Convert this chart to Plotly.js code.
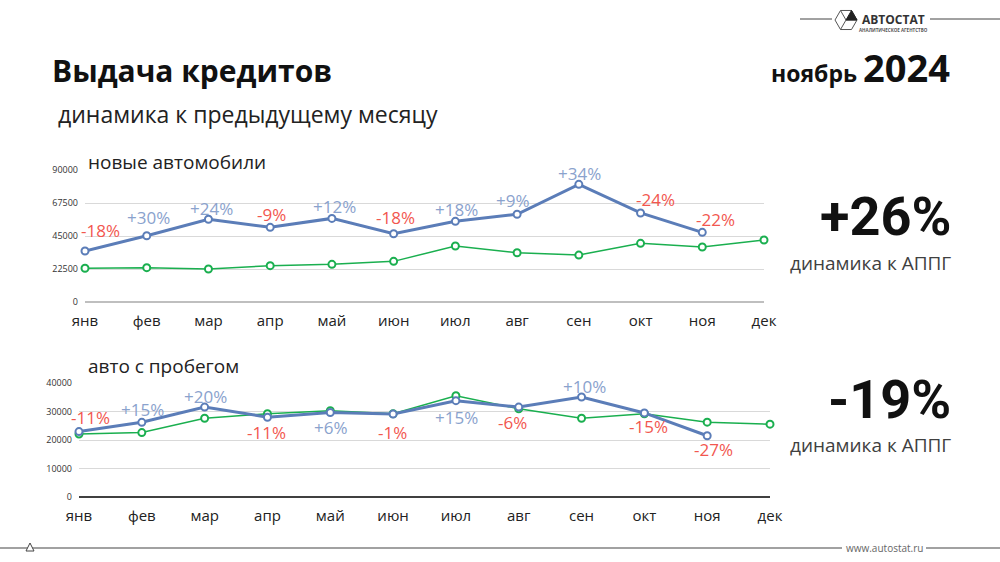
<!DOCTYPE html>
<html>
<head>
<meta charset="utf-8">
<script src="https://cdn.plot.ly/plotly-3.0.1.min.js"></script>
<style>
  html, body { margin: 0; padding: 0; background: #fff; }
  #chart { width: 1000px; height: 562px; }
</style>
</head>
<body>
<div id="chart"></div>
<script>
// ---------- data ----------
const months = ['янв','фев','мар','апр','май','июн','июл','авг','сен','окт','ноя','дек'];

const newCars2024 = [34800, 45200, 56400, 50900, 57000, 46500, 55000, 59800, 80200, 60700, 47500];
const newCars2023 = [23000, 23400, 22500, 24800, 25700, 27700, 38200, 33600, 32000, 40000, 37500, 42300];
const newCarsChange = ['-18%','+30%','+24%','-9%','+12%','-18%','+18%','+9%','+34%','-24%','-22%'];
const newTicks = [0, 22500, 45000, 67500, 90000];

const usedCars2024 = [22950, 26200, 31550, 28000, 29650, 29100, 33800, 31550, 35100, 29500, 21500];
const usedCars2023 = [22100, 22600, 27650, 29200, 30250, 29200, 35550, 30950, 27650, 29200, 26250, 25550];
const usedCarsChange = ['-11%','+15%','+20%','-11%','+6%','-1%','+15%','-6%','+10%','-15%','-27%'];
const usedTicks = [0, 10000, 20000, 30000, 40000];

const yoyNew = '+26%';
const yoyUsed = '-19%';
const yoyCaption = 'динамика к АППГ';

// ---------- styling ----------
const FONT = 'Open Sans, sans-serif';
const BIGFONT = 'Roboto, sans-serif';
const BLUE = '#5b7db8';
const GREEN = '#1aaf4f';
const LIGHTBLUE = '#8aa2cd';
const RED = '#f2574f';

const W = 1000, H = 562;
const px = x => x / W;
const py = y => 1 - y / H;

// label offsets (screen px: [dx, dy up])
const newOffsets = [[15,20],[2,18],[3,11],[1,13],[3,12],[2,16],[1,12],[-4,14],[1,11],[15,13],[13,13]];
const usedOffsets = [[11,14],[1,13],[1,11],[-1,-15],[1,-15],[-1,-18],[1,-17],[-6,-15],[3,10],[4,-14],[6,-14]];

function lineTrace(x, y, color, width, xa, ya) {
  return {
    type: 'scatter', mode: 'lines+markers', x: x, y: y,
    xaxis: xa, yaxis: ya, hoverinfo: 'skip',
    line: { color: color, width: width },
    marker: { size: 7, color: '#ffffff', line: { color: color, width: 2 } },
    cliponaxis: false
  };
}

const traces = [
  lineTrace(months, newCars2023, GREEN, 1.5, 'x', 'y'),
  lineTrace(months.slice(0, newCars2024.length), newCars2024, BLUE, 3, 'x', 'y'),
  lineTrace(months, usedCars2023, GREEN, 1.5, 'x2', 'y2'),
  lineTrace(months.slice(0, usedCars2024.length), usedCars2024, BLUE, 3, 'x2', 'y2')
];

const annotations = [];
function addChangeLabels(labels, values, offsets, xref, yref) {
  labels.forEach((t, i) => {
    annotations.push({
      x: months[i], y: values[i], xref: xref, yref: yref,
      text: t, showarrow: false,
      xanchor: 'center', yanchor: 'middle',
      xshift: offsets[i][0], yshift: offsets[i][1],
      font: { family: FONT, size: 17, color: t.startsWith('+') ? LIGHTBLUE : RED }
    });
  });
}
addChangeLabels(newCarsChange, newCars2024, newOffsets, 'x', 'y');
addChangeLabels(usedCarsChange, usedCars2024, usedOffsets, 'x2', 'y2');

function paperText(text, x, y, size, color, bold, xanchor, family, yanchor) {
  annotations.push({
    xref: 'paper', yref: 'paper', x: px(x), y: py(y),
    text: bold ? '<b>' + text + '</b>' : text, showarrow: false,
    xanchor: xanchor || 'left', yanchor: yanchor || 'middle', align: xanchor || 'left',
    font: { family: family || FONT, size: size, color: color }
  });
}

paperText('Выдача кредитов', 50, 70, 30, '#111111', true);
paperText('динамика к предыдущему месяцу', 56, 114, 23, '#222222', false);
paperText('ноябрь <span style="font-size:38px">2024</span>', 952, 67, 23, '#111111', true, 'right');
paperText('новые автомобили', 86, 162, 19, '#222222', false);
paperText('авто с пробегом', 86, 366, 19, '#222222', false);
paperText(yoyNew, 953, 217, 54, '#111111', true, 'right', BIGFONT);
paperText(yoyCaption, 953, 263, 19, '#404040', false, 'right');
paperText(yoyUsed, 953, 399, 54, '#111111', true, 'right', BIGFONT);
paperText(yoyCaption, 953, 445, 19, '#404040', false, 'right');
paperText('www.autostat.ru', 884, 548, 10, '#666666', false, 'center');
paperText('АВТОСТАТ', 893, 19, 12, '#333333', true, 'center');
paperText('АНАЛИТИЧЕСКОЕ АГЕНТСТВО', 893, 30, 4.5, '#555555', true, 'center');

// logo icon
const cx = 846, cy = 20, r = 11;
const hex = [];
for (let k = 0; k < 6; k++) {
  const a = Math.PI / 3 * k;
  hex.push([cx + r * Math.cos(a), cy + r * Math.sin(a)]);
}
let hexPath = 'M' + hex.map(p => px(p[0]) + ',' + py(p[1])).join(' L') + ' Z';
for (let k = 0; k < 6; k += 2) {
  hexPath += ' M' + px(cx) + ',' + py(cy) + ' L' + px(hex[k][0]) + ',' + py(hex[k][1]);
}
const filledTri = 'M' + px(cx) + ',' + py(cy) + ' L' + px(hex[5][0]) + ',' + py(hex[5][1]) +
                  ' L' + px(hex[0][0]) + ',' + py(hex[0][1]) + ' Z';

const shapes = [
  { type: 'path', xref: 'paper', yref: 'paper', path: hexPath, line: { color: '#555', width: 1 } },
  { type: 'path', xref: 'paper', yref: 'paper', path: filledTri, fillcolor: '#222', line: { color: '#222', width: 1 } },
  { type: 'line', xref: 'paper', yref: 'paper', x0: px(800), x1: px(832), y0: py(19), y1: py(19), line: { color: '#444', width: 1 } },
  { type: 'line', xref: 'paper', yref: 'paper', x0: px(930), x1: 1, y0: py(19), y1: py(19), line: { color: '#444', width: 1 } },
  // footer
  { type: 'line', xref: 'paper', yref: 'paper', x0: 0, x1: px(842), y0: py(548), y1: py(548), line: { color: '#444', width: 1.2 } },
  { type: 'line', xref: 'paper', yref: 'paper', x0: px(926), x1: 1, y0: py(548), y1: py(548), line: { color: '#444', width: 1.2 } },
  { type: 'path', xref: 'paper', yref: 'paper',
    path: 'M' + px(26) + ',' + py(551) + ' L' + px(30) + ',' + py(543) + ' L' + px(34) + ',' + py(551) + ' Z',
    fillcolor: '#fff', line: { color: '#444', width: 1 } }
];

const xCommon = {
  type: 'category', range: [0, 11], showgrid: false, zeroline: false,
  showline: false, ticks: '', tickfont: { family: FONT, size: 15, color: '#222' },
  fixedrange: true
};
const yCommon = {
  showgrid: true, gridcolor: '#d9d9d9', gridwidth: 1,
  showline: false, ticks: '', tickfont: { family: FONT, size: 9, color: '#333' },
  tickformat: 'd', fixedrange: true
};

const layout = {
  width: W, height: H,
  margin: { l: 0, r: 0, t: 0, b: 0 },
  paper_bgcolor: '#ffffff', plot_bgcolor: '#ffffff',
  showlegend: false,
  font: { family: FONT },
  xaxis: Object.assign({}, xCommon, { domain: [px(85), px(764)], anchor: 'y', ticklabelstandoff: 8 }),
  yaxis: Object.assign({}, yCommon, {
    domain: [py(302), py(170)], anchor: 'x', range: [0, 90000],
    tickvals: newTicks,
    zeroline: true, zerolinecolor: '#bfbfbf', zerolinewidth: 2.5, ticklabelstandoff: 6
  }),
  xaxis2: Object.assign({}, xCommon, { domain: [px(79), px(770)], anchor: 'y2', ticklabelstandoff: 8 }),
  yaxis2: Object.assign({}, yCommon, {
    domain: [py(497), py(383)], anchor: 'x2', range: [0, 40000],
    tickvals: usedTicks,
    zeroline: true, zerolinecolor: '#404040', zerolinewidth: 1.5, ticklabelstandoff: 6
  }),
  annotations: annotations,
  shapes: shapes
};

Plotly.newPlot('chart', traces, layout, { displayModeBar: false, staticPlot: true });
</script>
</body>
</html>
